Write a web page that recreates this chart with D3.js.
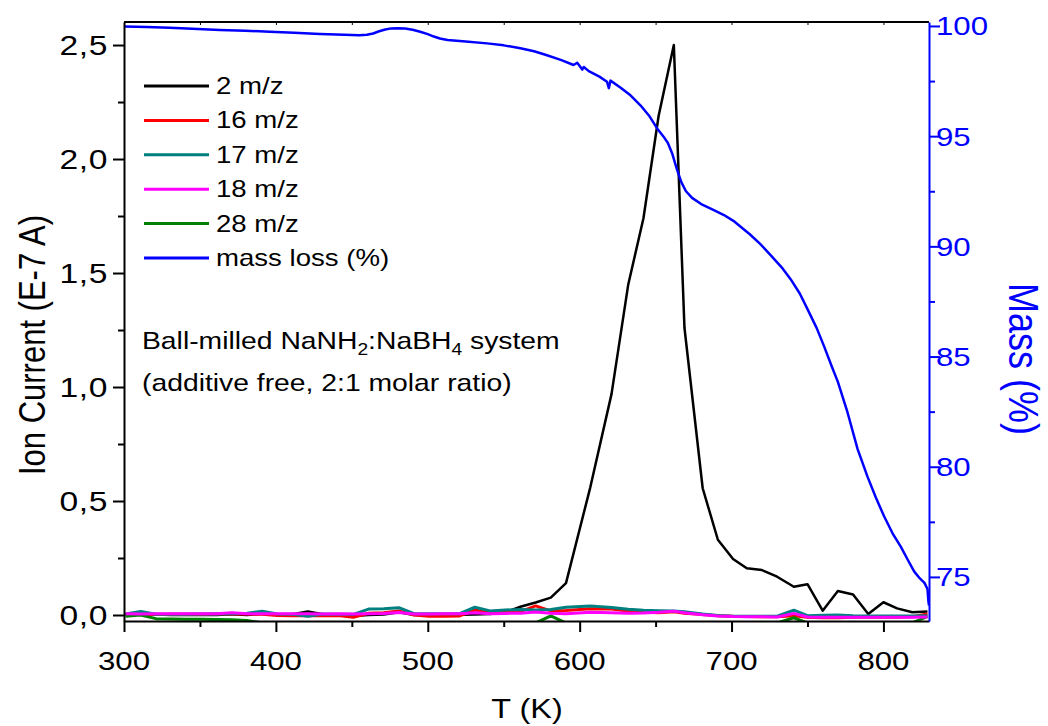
<!DOCTYPE html>
<html>
<head>
<meta charset="utf-8">
<script src="https://cdn.jsdelivr.net/npm/d3@7"></script>
<style>
body { margin: 0; background: #fff; }
text { font-family: Arial, "Liberation Sans", sans-serif; }
</style>
</head>
<body>
<div id="chart"></div>
<script>
(function() {
var WIDTH = 1048;
var HEIGHT = 726;
var SX = 1.2; // the source picture is a bit stretched sideways

// MS ion currents (E-7 A) against temperature (K)
var msTemp = [301,311,321,331,341,351,361,371,381,391,401,411,421,431,441,451,461,471,481,491,
  501,511,521,531,541,551,561,571,581,591,607,621,632,642,652,662,669,681,691,701,
  710,720,730,741,750,760,770,780,790,800,809,819,829];
var ms2 = [0.003,0.002,0.002,0.0,0.0,0.001,0.0,0.003,0.0,0.005,0.0,0.003,0.016,0.003,0.0,-0.004,0.0,0.002,0.012,0.0,
  0.0,0.0,0.001,0.002,0.004,0.012,0.036,0.055,0.076,0.14,0.56,0.97,1.45,1.74,2.19,2.50,1.26,0.556,0.33,0.246,
  0.205,0.197,0.168,0.124,0.135,0.019,0.105,0.09,0.004,0.056,0.029,0.012,0.015];
var ms16 = [0.002,0.003,0.002,0.003,0.003,0.003,0.004,0.005,0.004,0.003,-0.002,-0.003,-0.002,-0.003,-0.002,-0.010,0.008,0.010,0.018,0.0,
  -0.005,-0.006,-0.004,0.022,0.008,0.012,0.015,0.040,0.018,0.020,0.027,0.026,0.018,0.012,0.010,0.014,0.008,0.002,-0.003,-0.006,
  -0.007,-0.008,-0.008,-0.003,-0.010,-0.012,-0.012,-0.010,-0.010,-0.010,-0.010,-0.008,0.004];
var ms17 = [0.004,0.015,0.003,0.003,0.003,0.004,0.004,0.005,0.008,0.017,0.004,0.003,-0.006,0.004,0.003,0.003,0.026,0.027,0.032,0.006,
  0.005,0.006,0.006,0.034,0.018,0.022,0.024,0.022,0.024,0.034,0.040,0.033,0.025,0.021,0.019,0.018,0.014,0.004,-0.002,-0.005,
  -0.005,-0.005,-0.005,0.021,-0.003,-0.001,0.0,-0.003,-0.004,-0.004,-0.004,-0.004,-0.003];
var ms18 = [0.005,0.004,0.005,0.005,0.005,0.005,0.006,0.010,0.006,0.005,0.005,0.005,0.005,0.004,0.005,0.004,0.006,0.007,0.011,0.004,
  0.004,0.005,0.005,0.010,0.006,0.007,0.008,0.013,0.008,0.005,0.012,0.010,0.008,0.009,0.012,0.017,0.010,0.001,-0.004,-0.007,
  -0.008,-0.008,-0.009,0.007,-0.009,-0.010,-0.010,-0.010,-0.010,-0.010,-0.010,-0.010,-0.009];
var ms28 = [-0.006,0.0,-0.016,-0.018,-0.019,-0.019,-0.020,-0.021,-0.024,-0.035,-0.035,-0.035,-0.035,-0.035,-0.035,-0.035,-0.035,-0.035,-0.035,-0.035,
  -0.035,-0.035,-0.035,-0.035,-0.035,-0.035,-0.035,-0.035,-0.004,-0.035,-0.035,-0.035,-0.035,-0.035,-0.035,-0.035,-0.035,-0.035,-0.035,-0.035,
  -0.035,-0.035,-0.035,-0.012,-0.035,-0.035,-0.035,-0.035,-0.035,-0.035,-0.035,-0.035,-0.006];

// TG mass (%) against temperature (K)
var massTemp = [300,315,330,345,363,380,396,412,429,445,455,460,464,468,472,476,480,485,490,495,
  500,504,508,513,525,539,550,561,570,578,588,596,598.4,601.7,602.7,606,613,618,619.2,620.3,
  627,633,640,646,651,655,658,661,664,667,670,674,680,688,695,702,712,719,726,733,
  739,745,750,756,761,766,770,776,783,789.5,795,800.5,806,811.5,816,820.3,824,827,829,829.6,830];
var massVal = [99.98,99.95,99.92,99.87,99.82,99.78,99.74,99.69,99.64,99.60,99.58,99.60,99.66,99.76,99.84,99.89,99.90,99.88,99.83,99.74,
  99.63,99.52,99.43,99.36,99.30,99.21,99.12,98.99,98.85,98.68,98.45,98.23,98.33,98.02,98.14,97.95,97.70,97.47,97.18,97.52,
  97.20,96.88,96.40,95.90,95.35,95.0,94.70,94.20,93.50,92.90,92.50,92.20,91.92,91.66,91.42,91.12,90.55,90.10,89.58,89.05,
  88.50,87.85,87.15,86.30,85.45,84.55,83.85,82.55,80.80,79.55,78.60,77.74,76.98,76.36,75.78,75.24,74.93,74.73,74.45,73.9,73.7];

var seriesNames = ['2 m/z', '16 m/z', '17 m/z', '18 m/z', '28 m/z', 'mass loss (%)'];
var seriesColors = ['#000000', '#ff0000', '#008080', '#ff00ff', '#008000', '#0000ff'];
var xTicks = [300, 400, 500, 600, 700, 800];
var yTicks = [0, 0.5, 1.0, 1.5, 2.0, 2.5];
var massTicks = [75, 80, 85, 90, 95, 100];
var noteLines = ['Ball-milled NaNH', '2', ':NaBH', '4', ' system'];
var noteLine2 = '(additive free, 2:1 molar ratio)';

var L = 124, R = 929, T = 22, B = 621;
var x = d3.scaleLinear().domain([300, 830]).range([L, R]);
var y = d3.scaleLinear().domain([-0.0263, 2.601]).range([B, T]);
var yM = d3.scaleLinear().domain([73.0, 100.18]).range([B, T]);

var svg = d3.select('#chart').append('svg')
  .attr('width', WIDTH)
  .attr('height', HEIGHT);

svg.append('clipPath').attr('id', 'plot')
  .append('rect').attr('x', L).attr('y', T).attr('width', R - L).attr('height', B - T);

function label(px, py, str, size, anchor, color, rot) {
  var g = svg.append('g')
    .attr('transform', 'translate(' + px + ',' + py + ') scale(' + SX + ',1)' + (rot ? ' rotate(' + rot + ')' : ''));
  return g.append('text')
    .attr('text-anchor', anchor)
    .attr('font-size', size)
    .attr('fill', color)
    .text(str);
}

// series, drawn in the order the picture layers them
var msSeries = [ms2, ms16, ms17, ms28, ms18];
var msColors = [seriesColors[0], seriesColors[1], seriesColors[2], seriesColors[4], seriesColors[3]];
var lineMS = d3.line().x(function(d) { return x(d[0]); }).y(function(d) { return y(d[1]); });
msSeries.forEach(function(vals, i) {
  svg.append('path')
    .datum(msTemp.map(function(t, j) { return [t, vals[j]]; }))
    .attr('clip-path', 'url(#plot)')
    .attr('fill', 'none')
    .attr('stroke', msColors[i])
    .attr('stroke-width', i === 0 ? 2.5 : 3)
    .attr('stroke-linejoin', 'round')
    .attr('d', lineMS);
});

var lineMass = d3.line().x(function(d) { return x(d[0]); }).y(function(d) { return yM(d[1]); });
svg.append('path')
  .datum(massTemp.map(function(t, j) { return [t, massVal[j]]; }))
  .attr('clip-path', 'url(#plot)')
  .attr('fill', 'none')
  .attr('stroke', seriesColors[5])
  .attr('stroke-width', 2.5)
  .attr('stroke-linejoin', 'round')
  .attr('d', lineMass);

// frame and axes
svg.append('line').attr('x1', L).attr('x2', R).attr('y1', T).attr('y2', T)
  .attr('stroke', '#000').attr('stroke-width', 2);

var xAxis = d3.axisBottom(x).tickValues(d3.range(300, 831, 50)).tickSize(0).tickFormat('');
var gx = svg.append('g').attr('transform', 'translate(0,' + B + ')').call(xAxis);
gx.select('.domain').attr('stroke', '#000').attr('stroke-width', 2);
gx.selectAll('.tick line').attr('stroke', '#000').attr('stroke-width', 2)
  .attr('y2', function(d) { return d % 100 === 0 ? 11 : 6; });
xTicks.forEach(function(v) { label(x(v), 670, String(v), 26, 'middle', '#000'); });

var topAxis = d3.axisTop(x).tickValues(d3.range(300, 831, 50)).tickSize(-3).tickFormat('');
var gt = svg.append('g').attr('transform', 'translate(0,' + T + ')').call(topAxis);
gt.select('.domain').remove();
gt.selectAll('.tick line').attr('stroke', '#000').attr('stroke-width', 1);

var yAxis = d3.axisLeft(y).tickValues(d3.range(0, 2.51, 0.25)).tickSize(0).tickFormat('');
var gy = svg.append('g').attr('transform', 'translate(' + L + ',0)').call(yAxis);
gy.select('.domain').attr('stroke', '#000').attr('stroke-width', 2);
gy.selectAll('.tick line').attr('stroke', '#000').attr('stroke-width', 2)
  .attr('x2', function(d) { return Math.round(d * 100) % 50 === 0 ? -11 : -6; });
yTicks.forEach(function(v) {
  label(108, y(v) + 10, d3.format('.1f')(v).replace('.', ','), 28, 'end', '#000')
    .attr('letter-spacing', 0.5);
});

var rAxis = d3.axisRight(yM).tickValues(d3.range(75, 100.1, 2.5)).tickSize(0).tickFormat('');
var gr = svg.append('g').attr('transform', 'translate(' + R + ',0)').call(rAxis);
gr.select('.domain').attr('stroke', '#0000ff').attr('stroke-width', 2);
gr.selectAll('.tick line').attr('stroke', '#0000ff').attr('stroke-width', 2)
  .attr('x2', function(d) { return d % 5 === 0 ? 11 : 6; });
massTicks.forEach(function(v) { label(936, yM(v) + 9.5, String(v), 26, 'start', '#0000ff'); });

// axis titles
label(527, 718, 'T (K)', 27, 'middle', '#000');
label(45, 345, 'Ion Current (E-7 A)', 31, 'middle', '#000', -90);
label(1009, 359, 'Mass (%)', 36, 'middle', '#0000ff', 90);

// legend
seriesNames.forEach(function(name, i) {
  var ly = 86 + i * 34.4;
  svg.append('line').attr('x1', 144).attr('x2', 209).attr('y1', ly).attr('y2', ly)
    .attr('stroke', seriesColors[i]).attr('stroke-width', 3);
  label(216, ly + 8, name, 23, 'start', '#000');
});

// annotation
var note = label(142, 349, '', 23.6, 'start', '#000');
note.append('tspan').text(noteLines[0]);
note.append('tspan').attr('dy', 6).attr('font-size', 16).text(noteLines[1]);
note.append('tspan').attr('dy', -6).text(noteLines[2]);
note.append('tspan').attr('dy', 6).attr('font-size', 16).text(noteLines[3]);
note.append('tspan').attr('dy', -6).text(noteLines[4]);
label(142, 391, noteLine2, 23.6, 'start', '#000');
})();
</script>
</body>
</html>
